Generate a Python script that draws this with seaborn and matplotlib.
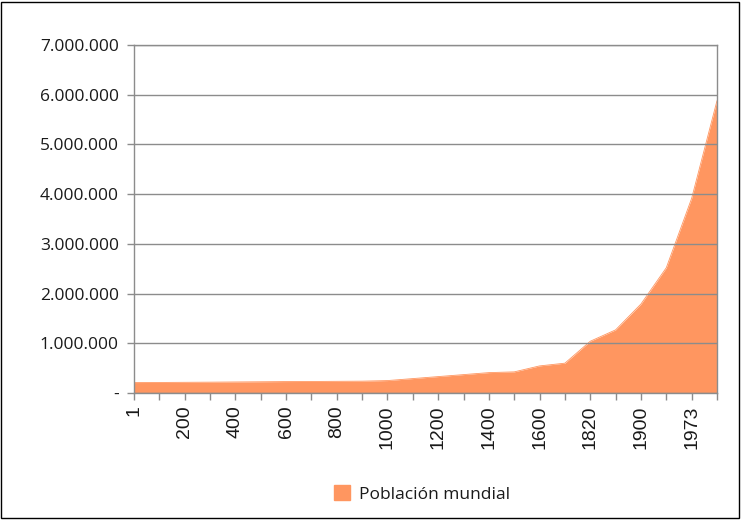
import matplotlib
matplotlib.use("Agg")
import matplotlib.pyplot as plt
import matplotlib.patches as mpatches
import seaborn as sns
import pandas as pd

# Años (categorías del eje X) y población mundial (miles de personas)
anios = ['1', '100', '200', '300', '400', '500', '600', '700', '800', '900',
         '1000', '1100', '1200', '1300', '1400', '1500', '1600', '1700',
         '1820', '1870', '1900', '1950', '1973', '1998']
poblacion = [210000, 212000, 215000, 218000, 222000, 226000, 230000, 232000,
             235000, 238000, 250000, 290000, 330000, 370000, 410000, 425000,
             545000, 600000, 1041000, 1270000, 1790000, 2520000, 3916000,
             5880000]
marcas_y = [0, 1000000, 2000000, 3000000, 4000000, 5000000, 6000000, 7000000]
etiquetas_y = ['-', '1.000.000', '2.000.000', '3.000.000', '4.000.000',
               '5.000.000', '6.000.000', '7.000.000']
serie = 'Población mundial'

NARANJA = '#FF9660'
GRIS = '#8C8C8C'
TEXTO = '#1a1a1a'

sns.set_style('white')
plt.rcParams['font.family'] = ['Open Sans', 'DejaVu Sans']

df = pd.DataFrame({'pos': range(len(anios)), 'anio': anios, 'valor': poblacion})

fig = plt.figure(figsize=(7.41, 5.2), dpi=100)
ax = fig.add_axes([134 / 741, 1 - 393 / 520, (717 - 134) / 741, (393 - 45) / 520])

# Área bajo la curva
sns.lineplot(data=df, x='pos', y='valor', color=NARANJA, lw=0.6, ax=ax)
ax.fill_between(df['pos'], df['valor'], 0, color=NARANJA, lw=0)

ax.set_xlim(0, len(anios) - 1)
ax.set_ylim(0, 7000000)
ax.set_xlabel('')
ax.set_ylabel('')

# Eje Y con separador de miles
ax.set_yticks(marcas_y)
ax.set_yticklabels(etiquetas_y, fontsize=12.5, color=TEXTO)
ax.yaxis.grid(True, color=GRIS, lw=1)
ax.set_axisbelow(False)

# Eje X: una marca por categoría, etiqueta cada dos
ax.set_xticks(df['pos'])
ax.set_xticklabels([a if i % 2 == 0 else '' for i, a in enumerate(anios)],
                   rotation=90, fontsize=14, family='Liberation Sans', color=TEXTO)

ax.tick_params(axis='both', direction='out', width=1, color=GRIS)
ax.tick_params(axis='x', bottom=True, length=5, pad=4)
ax.tick_params(axis='y', left=True, length=5.4, pad=5.5)
for lado in ['left', 'bottom', 'right', 'top']:
    ax.spines[lado].set_color(GRIS)
    ax.spines[lado].set_linewidth(1)

# Leyenda abajo
parche = mpatches.Patch(color=NARANJA, label=serie)
fig.legend(handles=[parche], loc='center', bbox_to_anchor=(422 / 741, 1 - 494 / 520),
           frameon=False, fontsize=12.5, handlelength=0.9, handleheight=0.9,
           handletextpad=0.5, labelcolor=TEXTO)

# Marco del gráfico
fig.patches.append(mpatches.Rectangle((0.002, 0.003), 0.995, 0.993, transform=fig.transFigure,
                                      fill=False, edgecolor='black', lw=1))

fig.savefig('out.png', dpi=100)
